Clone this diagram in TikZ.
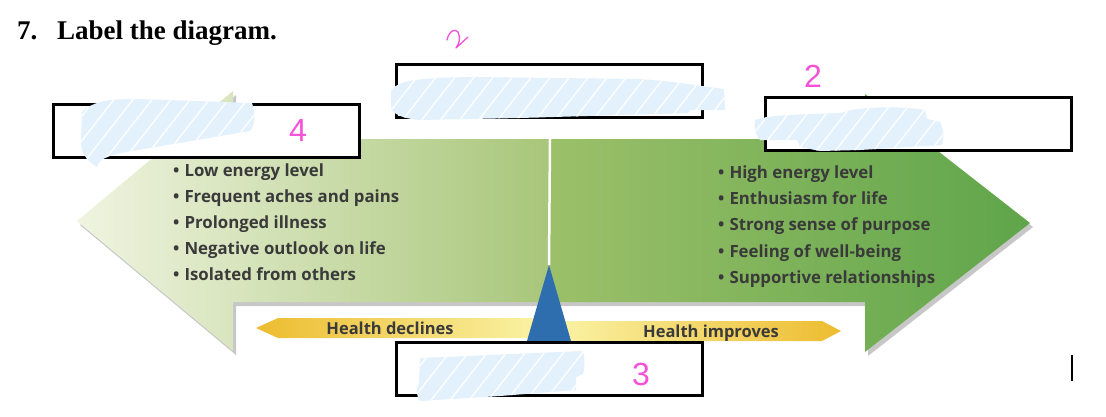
\documentclass[tikz,border=0pt]{standalone}
\usepackage{fontspec}
\setmainfont{Liberation Serif}
\newfontfamily\diagfont{Open Sans}
\newfontfamily\handfont{Liberation Sans}
\usetikzlibrary{patterns.meta}
\definecolor{txtgray}{HTML}{3A3A3A}
\definecolor{lgA}{HTML}{F0F4E0}
\definecolor{lgB}{HTML}{A8C67A}
\definecolor{dgA}{HTML}{9CC06A}
\definecolor{dgB}{HTML}{5FA54A}
\definecolor{goldY}{HTML}{EDBC30}
\definecolor{paleY}{HTML}{FAF4A8}
\definecolor{blueT}{HTML}{2F6EAE}
\definecolor{scribblue}{HTML}{E2F1FC}
\definecolor{handpink}{HTML}{F552D8}
\begin{document}
\begin{tikzpicture}[x=1pt,y=-1pt,
  box/.style={draw=black,line width=3pt,fill=white,inner sep=0pt,minimum width=306pt,minimum height=53pt},
  bul/.style={anchor=base west,inner sep=0pt,font=\diagfont\bfseries\fontsize{16.8}{20}\selectfont,text=txtgray},
  ytxt/.style={inner sep=0pt,anchor=base,font=\diagfont\bfseries\fontsize{16.5}{18}\selectfont,text=txtgray},
  scrib/.style={fill=scribblue,postaction={pattern={Lines[angle=52,distance=15pt,line width=1.3pt]},pattern color=white}},
  hand/.style={text=handpink,font=\handfont\fontsize{32}{32}\selectfont,inner sep=0pt}
]
\useasboundingbox (0,0) rectangle (1106,416);
\fill[white] (0,0) rectangle (1106,416);

% title
\node[anchor=base west,inner sep=0pt,font=\bfseries\fontsize{27}{30}\selectfont] (num) at (17,39) {7.};
\node[anchor=base west,inner sep=0pt,font=\bfseries\fontsize{27}{30}\selectfont] (ttl) at (57,39) {Label the diagram.};

% shadow of the double arrow
\fill[black,opacity=0.22,shift={(3,4)}]
  (77,221) -- (233,91) -- (233,139) -- (865,139) -- (865,94) -- (1030,223)
  -- (865,352) -- (865,302) -- (233,302) -- (233,351) -- cycle;

% left (declining) half
\shade[left color=lgA,right color=lgB]
  (77,221) -- (233,91) -- (233,139) -- (550,139) -- (550,302) -- (233,302) -- (233,351) -- cycle;
% right (improving) half
\shade[left color=dgA,right color=dgB]
  (550,139) -- (865,139) -- (865,94) -- (1030,223) -- (865,352) -- (865,302) -- (550,302) -- cycle;

% yellow arrows
\shade[left color=goldY,right color=paleY]
  (256,328) -- (278,318) -- (550,318) -- (550,338) -- (278,338) -- cycle;
\shade[left color=paleY,right color=goldY]
  (549,321) -- (822,321) -- (841,331) -- (822,341) -- (549,341) -- cycle;
\node[ytxt] (hd) at (390,334) {Health declines};
\node[ytxt] (hi) at (711,337) {Health improves};

% fulcrum
\coordinate (apex) at (549,265);
\coordinate (topmid) at (550,139);
\draw[white,line width=2.5pt] (topmid) -- (apex);
\fill[blueT] (apex) -- (527,341) -- (571,341) -- cycle;

% bullet lists
\foreach \t [count=\i] in {Low energy level,Frequent aches and pains,Prolonged illness,Negative outlook on life,Isolated from others}
  \node[bul] (l\i) at (173,{176+26*(\i-1)}) {•\hspace{5pt}\t};
\foreach \t [count=\i] in {High energy level,Enthusiasm for life,Strong sense of purpose,Feeling of well-being,Supportive relationships}
  \node[bul] (r\i) at (718,{178+26.4*(\i-1)}) {•\hspace{5pt}\t};

% label boxes
\node[box] (b1) at (549.5,90.5) {};
\node[box] (b2) at (918,124) {};
\node[box] (b3) at (549.5,369) {};
\node[box] (b4) at (206.5,130.5) {};

% scribbles
\path[scrib] (82,112) .. controls (95,100) and (110,99) .. (140,99) -- (252,103)
  .. controls (256,115) and (255,125) .. (250,131) -- (120,153)
  .. controls (105,157) and (98,160) .. (97,167) .. controls (85,160) and (80,150) .. (81,140) -- cycle;
\path[scrib] (391,92) .. controls (395,80) and (420,78) .. (470,77) -- (640,79)
  .. controls (680,82) and (700,86) .. (724,89) -- (725,110) -- (690,110) -- (688,113)
  -- (520,118) -- (420,120) .. controls (395,118) and (390,110) .. (391,105) -- cycle;
\path[scrib] (755,120) .. controls (770,114) and (820,114) .. (840,113)
  .. controls (860,106) and (900,106) .. (925,110) -- (927,119) -- (940,122)
  .. controls (944,130) and (944,138) .. (942,145) -- (860,150) -- (820,151) -- (800,147) -- (797,140)
  -- (760,140) .. controls (755,135) and (754,127) .. (755,120) -- cycle;
\path[scrib] (420,358) -- (583,351) .. controls (585,360) and (585,368) .. (583,374) -- (576,377)
  -- (576,390) -- (500,396) -- (420,401) .. controls (416,395) and (416,390) .. (419,383) -- cycle;

% handwritten marks
\draw[handpink,line width=1.3pt,line cap=round,line join=round]
  (447,40) .. controls (449,31) and (455,28) .. (458,32) .. controls (461,38) and (459,44) .. (456,48)
  -- (468,37);
\node[hand] (h2) at (813,76) {2};
\node[hand] (h4) at (298,130) {4};
\node[hand] (h3) at (641,374) {3};

% stray mark bottom right
\coordinate (m1) at (1072,355);
\coordinate (m2) at (1072,381);
\draw[line width=2.5pt] (m1) -- (m2);
\end{tikzpicture}
\end{document}
